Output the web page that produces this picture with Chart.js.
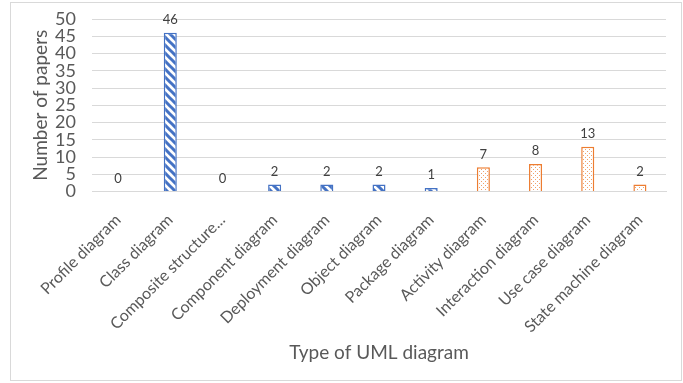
<!DOCTYPE html>
<html>
<head>
<meta charset="utf-8">
<script src="https://cdn.jsdelivr.net/npm/chart.js@4.4.0/dist/chart.umd.min.js"></script>
<style>
  html, body { margin: 0; padding: 0; background: #fff; }
  #wrap {
    position: absolute; left: 10px; top: 2px; width: 672px; height: 379px;
    border: 1px solid #d9d9d9; box-sizing: border-box;
  }
</style>
</head>
<body>
<div id="wrap"><canvas id="umlChart"></canvas></div>
<script>
// data
const diagramTypes = [
  "Profile diagram", "Class diagram", "Composite structure...", "Component diagram",
  "Deployment diagram", "Object diagram", "Package diagram", "Activity diagram",
  "Interaction diagram", "Use case diagram", "State machine diagram"
];
const paperCounts = [0, 46, 0, 2, 2, 2, 1, 7, 8, 13, 2];
const diagramKind = [
  "structure", "structure", "structure", "structure", "structure", "structure",
  "structure", "behavior", "behavior", "behavior", "behavior"
];
const yTicks = [0, 5, 10, 15, 20, 25, 30, 35, 40, 45, 50];

const BLUE = "#4472C4";
const ORANGE = "#ED7D31";
const FONT = "Lato, 'Liberation Sans', sans-serif";

function stripePattern(color) {
  const s = 8;
  const c = document.createElement("canvas");
  c.width = s; c.height = s;
  const g = c.getContext("2d");
  g.fillStyle = "#fff";
  g.fillRect(0, 0, s, s);
  g.strokeStyle = color;
  g.lineWidth = 3;
  g.beginPath();
  g.moveTo(-2, -2); g.lineTo(s + 2, s + 2);
  g.moveTo(-s - 2, -2); g.lineTo(2, s + 2);
  g.moveTo(s - 2, -2); g.lineTo(2 * s + 2, s + 2);
  g.stroke();
  return g.createPattern(c, "repeat");
}

function dotPattern(color) {
  const c = document.createElement("canvas");
  c.width = 4; c.height = 4;
  const g = c.getContext("2d");
  g.fillStyle = "#fff";
  g.fillRect(0, 0, 4, 4);
  g.fillStyle = color;
  g.fillRect(0, 0, 1, 1);
  g.fillRect(2, 2, 1, 1);
  return g.createPattern(c, "repeat");
}

const fills = diagramKind.map((k) => k === "structure" ? stripePattern(BLUE) : dotPattern("#F0A06A"));
const borders = diagramKind.map((k) => k === "structure" ? BLUE : ORANGE);

// values above bars
const valueLabels = {
  id: "valueLabels",
  afterDatasetsDraw(chart) {
    const ctx = chart.ctx;
    const meta = chart.getDatasetMeta(0);
    ctx.save();
    ctx.font = "13px " + FONT;
    ctx.fillStyle = "#404040";
    ctx.textAlign = "center";
    ctx.textBaseline = "middle";
    meta.data.forEach((bar, i) => {
      ctx.fillText(String(paperCounts[i]), bar.x, bar.y - 13);
    });
    ctx.restore();
  }
};

new Chart(document.getElementById("umlChart"), {
  type: "bar",
  data: {
    labels: diagramTypes,
    datasets: [{
      data: paperCounts,
      backgroundColor: fills,
      borderColor: borders,
      borderWidth: 1.5,
      barPercentage: 0.5,
      categoryPercentage: 0.5
    }]
  },
  options: {
    responsive: true,
    maintainAspectRatio: false,
    animation: false,
    layout: { padding: { top: 16, right: 15, left: 15, bottom: 16 } },
    plugins: {
      legend: { display: false },
      tooltip: { enabled: false }
    },
    scales: {
      x: {
        // let the rotated first label hang left of the plot like the original
        afterFit(axis) { axis.paddingLeft = 0; },
        grid: { display: false },
        border: { color: "#d9d9d9" },
        ticks: {
          color: "#595959",
          font: { family: FONT, size: 16 },
          minRotation: 45,
          maxRotation: 45,
          autoSkip: false,
          padding: 11
        },
        title: {
          display: true,
          text: "Type of UML diagram",
          color: "#595959",
          font: { family: FONT, size: 19 },
          padding: { top: 15, bottom: 0 }
        }
      },
      y: {
        min: 0,
        max: 50,
        afterBuildTicks(axis) { axis.ticks = yTicks.map((v) => ({ value: v })); },
        afterFit(axis) {
          axis.width = 66;
          axis.paddingTop = 0;
          axis.paddingBottom = 0;
        },
        grid: { color: "#d9d9d9", drawTicks: false },
        border: { display: false },
        ticks: {
          color: "#595959",
          font: { family: FONT, size: 18 },
          autoSkip: false,
          padding: 16
        },
        title: {
          display: true,
          text: "Number of papers",
          color: "#595959",
          font: { family: FONT, size: 19 },
          padding: 3
        }
      }
    }
  },
  plugins: [valueLabels]
});
</script>
</body>
</html>
